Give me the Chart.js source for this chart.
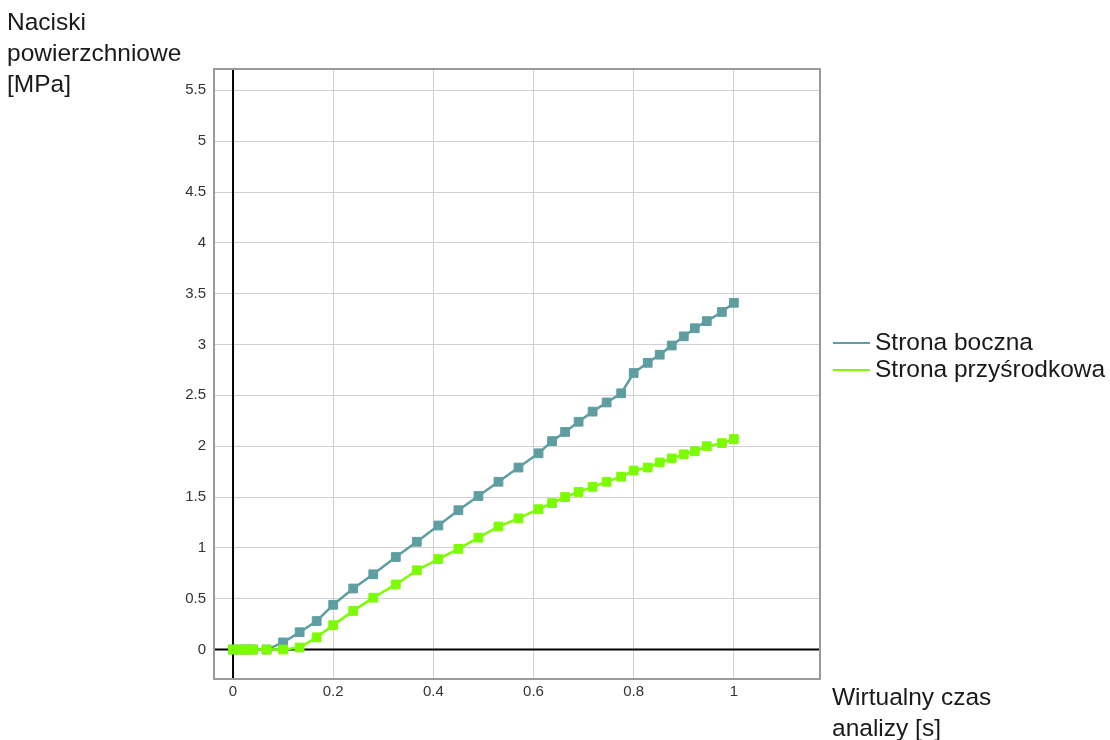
<!DOCTYPE html>
<html>
<head>
<meta charset="utf-8">
<script src="https://cdn.jsdelivr.net/npm/chart.js@4.4.1/dist/chart.umd.min.js"></script>
<style>
  html, body { margin: 0; padding: 0; background: #fff; }
  #wrap { position: relative; width: 1110px; height: 740px; }
</style>
</head>
<body>
<div id="wrap"><canvas id="c" width="1110" height="740"></canvas></div>
<script>
const timeValues = [0, 0.01, 0.02, 0.03, 0.04, 0.067, 0.1, 0.133, 0.167, 0.2, 0.24, 0.28, 0.325, 0.367, 0.41, 0.45, 0.49, 0.53, 0.57, 0.61, 0.637, 0.663, 0.69, 0.718, 0.746, 0.775, 0.8, 0.828, 0.852, 0.876, 0.9, 0.922, 0.946, 0.976, 1.0];
const stronaBoczna = [0, 0, 0, 0, 0, 0, 0.07, 0.17, 0.28, 0.44, 0.60, 0.74, 0.91, 1.06, 1.22, 1.37, 1.51, 1.65, 1.79, 1.93, 2.05, 2.14, 2.24, 2.34, 2.43, 2.52, 2.72, 2.82, 2.90, 2.99, 3.08, 3.16, 3.23, 3.32, 3.41];
const stronaPrzysrodkowa = [0, 0, 0, 0, 0, 0, 0, 0.02, 0.12, 0.24, 0.38, 0.51, 0.64, 0.78, 0.89, 0.99, 1.10, 1.21, 1.29, 1.38, 1.44, 1.50, 1.55, 1.60, 1.65, 1.70, 1.76, 1.79, 1.84, 1.88, 1.92, 1.95, 2.00, 2.03, 2.07];
const seriesNames = ["Strona boczna", "Strona przyśrodkowa"];
const seriesColors = ["#5F9EA0", "#7CFC00"];
const xTickValues = [0, 0.2, 0.4, 0.6, 0.8, 1];
const yTickValues = [0, 0.5, 1, 1.5, 2, 2.5, 3, 3.5, 4, 4.5, 5, 5.5];
const yTitleLines = ["Naciski", "powierzchniowe", "[MPa]"];
const xTitleLines = ["Wirtualny czas", "analizy [s]"];

const FONT = "'Liberation Sans', Arial, sans-serif";

function toPoints(xs, ys) { return xs.map((x, i) => ({ x: x, y: ys[i] })); }

const decorPlugin = {
  id: 'decor',
  beforeDatasetsDraw(chart) {
    const { ctx, chartArea: a } = chart;
    ctx.save();
    ctx.strokeStyle = '#9a9a9a';
    ctx.lineWidth = 2;
    ctx.strokeRect(a.left - 1, a.top - 1, a.right - a.left + 2, a.bottom - a.top + 2);
    const x0 = chart.scales.x.getPixelForValue(0);
    const y0 = chart.scales.y.getPixelForValue(0);
    ctx.strokeStyle = '#000';
    ctx.lineWidth = 2;
    ctx.beginPath();
    ctx.moveTo(x0, a.top); ctx.lineTo(x0, a.bottom);
    ctx.moveTo(a.left, y0); ctx.lineTo(a.right, y0);
    ctx.stroke();
    ctx.restore();
  },
  afterDraw(chart) {
    const { ctx } = chart;
    ctx.save();
    ctx.fillStyle = '#1a1a1a';
    ctx.textBaseline = 'middle';
    ctx.textAlign = 'left';
    ctx.font = "24.5px " + FONT;
    yTitleLines.forEach((t, i) => ctx.fillText(t, 7, 23 + i * 31));
    xTitleLines.forEach((t, i) => ctx.fillText(t, 832, 698 + i * 31));
    ctx.font = "24.5px " + FONT;
    seriesNames.forEach((n, i) => {
      const y = 343 + i * 27;
      ctx.strokeStyle = seriesColors[i];
      ctx.lineWidth = 2;
      ctx.beginPath(); ctx.moveTo(833, y); ctx.lineTo(870, y); ctx.stroke();
      ctx.fillStyle = '#1a1a1a';
      ctx.fillText(n, 875, y);
    });
    ctx.restore();
  }
};

new Chart(document.getElementById('c'), {
  type: 'scatter',
  data: {
    datasets: [
      {
        label: seriesNames[1],
        data: toPoints(timeValues, stronaPrzysrodkowa),
        borderColor: seriesColors[1], backgroundColor: seriesColors[1],
        showLine: true, borderWidth: 2.5, pointStyle: 'rect', pointRadius: 6.2,
        pointBorderWidth: 1, order: 0
      },
      {
        label: seriesNames[0],
        data: toPoints(timeValues, stronaBoczna),
        borderColor: seriesColors[0], backgroundColor: seriesColors[0],
        showLine: true, borderWidth: 2.5, pointStyle: 'rect', pointRadius: 6.2,
        pointBorderWidth: 1, order: 1
      }
    ]
  },
  options: {
    responsive: false,
    animation: false,
    devicePixelRatio: 1,
    layout: { padding: { left: 0, top: 70, right: 291, bottom: 0 } },
    plugins: { legend: { display: false }, tooltip: { enabled: false } },
    scales: {
      x: {
        type: 'linear', min: -0.036, max: 1.17,
        afterBuildTicks(s) { s.ticks = xTickValues.map(v => ({ value: v })); },
        afterFit(s) { s.height = 62; },
        grid: { color: '#d0d0d0', lineWidth: 1, drawTicks: false },
        border: { display: false },
        ticks: { padding: 5, color: '#333', font: { family: FONT, size: 15 },
          callback: v => String(Math.round(v * 10) / 10) }
      },
      y: {
        type: 'linear', min: -0.28, max: 5.7,
        afterBuildTicks(s) { s.ticks = yTickValues.map(v => ({ value: v })); },
        afterFit(s) { s.width = 215; },
        grid: { color: '#d0d0d0', lineWidth: 1, drawTicks: false },
        border: { display: false },
        ticks: { padding: 9, color: '#333', font: { family: FONT, size: 15 },
          callback: v => String(Math.round(v * 10) / 10) }
      }
    }
  },
  plugins: [decorPlugin]
});
</script>
</body>
</html>
